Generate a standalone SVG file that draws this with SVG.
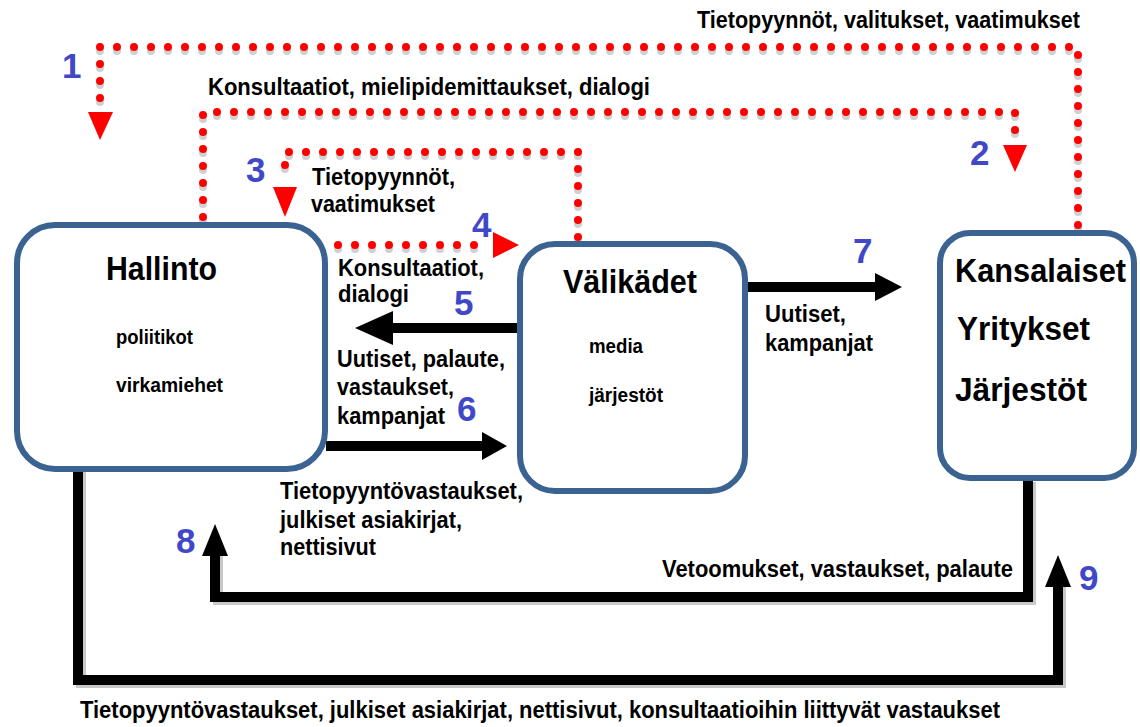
<svg xmlns="http://www.w3.org/2000/svg" width="1140" height="727" viewBox="0 0 1140 727">
<defs>
<style>
.box{fill:#fff;stroke:#3b6392;stroke-width:6}
.dot{fill:none;stroke:#ff0000;stroke-width:8;stroke-linecap:round;stroke-dasharray:0 17}
.dsh{fill:none;stroke:#d0d0d0;stroke-width:8;stroke-linecap:round;stroke-dasharray:0 17}
.ln{fill:none;stroke:#000;stroke-width:10}
.lsh{fill:none;stroke:#c8c8c8;stroke-width:10}
.rh{fill:#ff0000}
.bh{fill:#000}
.t{font-family:"Liberation Sans",Arial,sans-serif;font-weight:bold;font-size:23px;fill:#000}
.s{font-family:"Liberation Sans",Arial,sans-serif;font-weight:bold;font-size:20px;fill:#000}
.h{font-family:"Liberation Sans",Arial,sans-serif;font-weight:bold;font-size:33px;fill:#000}
.n{font-family:"Liberation Sans",Arial,sans-serif;font-weight:bold;font-size:35px;fill:#4048c8}
</style>
</defs>
<g id="connectors">
<!-- 1 -->
<path class="dsh" d="M1078,229 V51 H100 V112"/>
<path class="dot" d="M1078,225 V47 H100 V108"/>
<polygon class="rh" points="88,112 113,112 100,140"/>
<!-- 2 -->
<path class="dsh" d="M203,221 V116 H1015 V140"/>
<path class="dot" d="M203,217 V112 H1015 V136"/>
<polygon class="rh" points="1003,145 1027,145 1015,172"/>
<!-- 3 -->
<path class="dsh" d="M578,241 V156 H285 V180"/>
<path class="dot" d="M578,237 V152 H285 V176"/>
<polygon class="rh" points="273,187 297,187 285,217"/>
<!-- 4 -->
<path class="dsh" d="M338,249 H490"/>
<path class="dot" d="M338,245 H490"/>
<polygon class="rh" points="493,232 493,258 519,245"/>
<!-- 5 -->
<path class="ln" d="M518,328 H390"/>
<polygon class="bh" points="393,311 393,345 355,328"/>
<!-- 6 -->
<path class="ln" d="M326,446 H485"/>
<polygon class="bh" points="482,432 482,460 507,446"/>
<!-- 7 -->
<path class="ln" d="M746,287 H877"/>
<polygon class="bh" points="875,273 875,301 902,287"/>
<!-- 8 -->
<path class="lsh" d="M1031,482 V600 H218 V555"/>
<path class="ln" d="M1028,480 V597 H215 V555"/>
<polygon class="bh" points="202,556 228,556 215,524"/>
<!-- 9 -->
<path class="lsh" d="M81,472 V683 H1061 V585"/>
<path class="ln" d="M78,470 V680 H1058 V585"/>
<polygon class="bh" points="1045,587 1071,587 1058,555"/>
</g>
<g id="hallinto">
<rect class="box" x="17" y="225" width="308" height="244" rx="38"/>
<text class="h" x="106" y="280" textLength="111" lengthAdjust="spacingAndGlyphs">Hallinto</text>
<text class="s" x="116" y="344" textLength="77" lengthAdjust="spacingAndGlyphs">poliitikot</text>
<text class="s" x="116" y="392" textLength="107" lengthAdjust="spacingAndGlyphs">virkamiehet</text>
</g>
<g id="valikadet">
<rect class="box" x="520" y="244" width="225" height="247" rx="35"/>
<text class="h" x="563" y="293" textLength="134" lengthAdjust="spacingAndGlyphs">Välikädet</text>
<text class="s" x="589" y="353" textLength="54" lengthAdjust="spacingAndGlyphs">media</text>
<text class="s" x="589" y="402" textLength="74" lengthAdjust="spacingAndGlyphs">järjestöt</text>
</g>
<g id="kansalaiset">
<rect class="box" x="940" y="233" width="194" height="245" rx="30"/>
<text class="h" x="955" y="282" textLength="171" lengthAdjust="spacingAndGlyphs">Kansalaiset</text>
<text class="h" x="957" y="340" textLength="133" lengthAdjust="spacingAndGlyphs">Yritykset</text>
<text class="h" x="955" y="401" textLength="132" lengthAdjust="spacingAndGlyphs">Järjestöt</text>
</g>
<g id="labels">
<text class="t" x="697" y="28" textLength="383" lengthAdjust="spacingAndGlyphs">Tietopyynnöt, valitukset, vaatimukset</text>
<text class="t" x="208" y="95" textLength="442" lengthAdjust="spacingAndGlyphs">Konsultaatiot, mielipidemittaukset, dialogi</text>
<text class="t" x="312" y="185" textLength="143" lengthAdjust="spacingAndGlyphs">Tietopyynnöt,</text>
<text class="t" x="311" y="212" textLength="124" lengthAdjust="spacingAndGlyphs">vaatimukset</text>
<text class="t" x="338" y="276" textLength="146" lengthAdjust="spacingAndGlyphs">Konsultaatiot,</text>
<text class="t" x="338" y="302" textLength="71" lengthAdjust="spacingAndGlyphs">dialogi</text>
<text class="t" x="337" y="367" textLength="168" lengthAdjust="spacingAndGlyphs">Uutiset, palaute,</text>
<text class="t" x="337" y="395" textLength="117" lengthAdjust="spacingAndGlyphs">vastaukset,</text>
<text class="t" x="337" y="424" textLength="108" lengthAdjust="spacingAndGlyphs">kampanjat</text>
<text class="t" x="765" y="322" textLength="81" lengthAdjust="spacingAndGlyphs">Uutiset,</text>
<text class="t" x="765" y="351" textLength="108" lengthAdjust="spacingAndGlyphs">kampanjat</text>
<text class="t" x="280" y="499" textLength="243" lengthAdjust="spacingAndGlyphs">Tietopyyntövastaukset,</text>
<text class="t" x="280" y="528" textLength="182" lengthAdjust="spacingAndGlyphs">julkiset asiakirjat,</text>
<text class="t" x="280" y="555" textLength="96" lengthAdjust="spacingAndGlyphs">nettisivut</text>
<text class="t" x="662" y="577" textLength="351" lengthAdjust="spacingAndGlyphs">Vetoomukset, vastaukset, palaute</text>
<text class="t" x="80" y="718" textLength="920" lengthAdjust="spacingAndGlyphs">Tietopyyntövastaukset, julkiset asiakirjat, nettisivut, konsultaatioihin liittyvät vastaukset</text>
<text class="n" x="62" y="78">1</text>
<text class="n" x="970" y="165">2</text>
<text class="n" x="246" y="182">3</text>
<text class="n" x="472" y="237">4</text>
<text class="n" x="454" y="315">5</text>
<text class="n" x="457" y="421">6</text>
<text class="n" x="853" y="263">7</text>
<text class="n" x="176" y="553">8</text>
<text class="n" x="1079" y="590">9</text>
</g>
</svg>
